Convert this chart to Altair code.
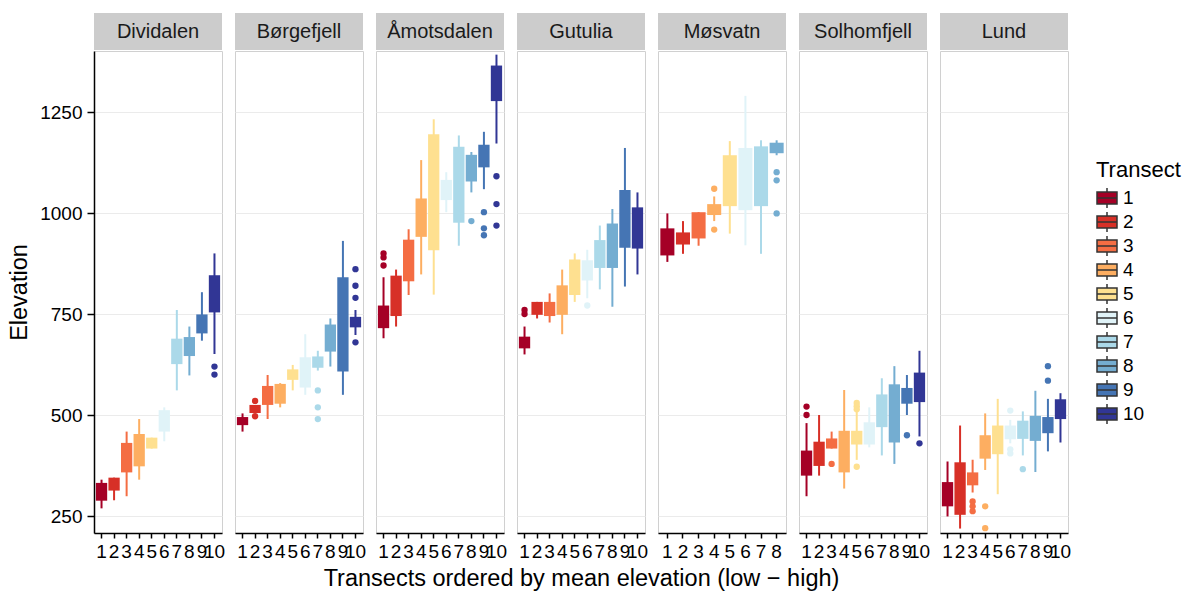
import altair as alt
import pandas as pd

SITES = ["Dividalen", "Børgefjell", "Åmotsdalen", "Gutulia", "Møsvatn", "Solhomfjell", "Lund"]
N_TRANSECTS = [10, 10, 10, 10, 8, 10, 10]

TRANSECTS = [str(k) for k in range(1, 11)]
COLORS = ["#A50026", "#D73027", "#F46D43", "#FDAE61", "#FEE090",
          "#E0F3F8", "#ABD9E9", "#74ADD1", "#4575B4", "#313695"]

WHISKER_LOW = [
    [269, 289, 299, 340, 417, 435, 561, 598, 684, 651],
    [459, 505, 490, 519, 561, 550, 610, 620, 550, 698],
    [690, 719, 797, 848, 798, 1002, 919, 1051, 1059, 1172],
    [650, 739, 729, 700, 780, 789, 811, 768, 818, 848],
    [879, 899, 919, 980, 949, 920, 899, 1143],
    [299, 350, 417, 318, 389, 420, 400, 379, 500, 447],
    [249, 219, 308, 364, 304, 430, 400, 359, 410, 432],
]
Q1 = [
    [288, 313, 358, 373, 417, 459, 626, 646, 702, 754],
    [475, 505, 525, 528, 587, 568, 617, 657, 608, 717],
    [715, 745, 831, 941, 908, 1032, 976, 1078, 1113, 1277],
    [665, 748, 745, 748, 797, 833, 864, 864, 914, 912],
    [895, 922, 937, 995, 1017, 1007, 1017, 1148],
    [350, 374, 417, 358, 427, 427, 470, 432, 528, 532],
    [274, 253, 326, 392, 403, 440, 441, 436, 455, 490],
]
Q3 = [
    [332, 345, 431, 453, 444, 512, 689, 693, 749, 846],
    [495, 525, 572, 577, 613, 643, 645, 724, 841, 743],
    [771, 845, 934, 1036, 1195, 1082, 1164, 1144, 1169, 1365],
    [694, 780, 780, 821, 885, 883, 933, 974, 1057, 1014],
    [962, 952, 1002, 1022, 1143, 1161, 1165, 1174],
    [412, 434, 442, 461, 461, 482, 551, 576, 567, 605],
    [334, 383, 358, 450, 474, 474, 486, 498, 495, 539],
]
WHISKER_HIGH = [
    [340, 345, 459, 490, 444, 519, 760, 719, 804, 900],
    [504, 525, 599, 579, 624, 700, 659, 739, 931, 760],
    [841, 860, 960, 1131, 1232, 1101, 1192, 1151, 1201, 1392],
    [719, 780, 801, 860, 900, 909, 969, 1010, 1161, 1051],
    [999, 980, 1002, 1041, 1178, 1290, 1180, 1180],
    [480, 500, 459, 562, 512, 519, 591, 621, 599, 659],
    [385, 474, 389, 504, 540, 488, 509, 560, 540, 554],
]
# outliers per site: (transect, elevation)
OUTLIERS = [
    [(10, 620), (10, 600)],
    [(2, 535), (2, 497), (7, 561), (7, 519), (7, 490), (10, 861), (10, 820), (10, 790), (10, 680)],
    [(1, 900), (1, 890), (1, 870), (8, 980), (9, 1002), (9, 962), (9, 945), (10, 1091), (10, 1022), (10, 969)],
    [(1, 760), (1, 750), (6, 771)],
    [(4, 1060), (4, 959), (8, 1101), (8, 1081), (8, 999)],
    [(1, 521), (1, 500), (3, 379), (5, 530), (5, 522), (5, 514), (5, 372), (9, 450), (10, 430)],
    [(3, 286), (3, 274), (3, 262), (4, 274), (4, 220), (6, 511), (6, 415), (6, 405), (7, 366), (9, 621), (9, 585)],
]
Y_TICKS = [250, 500, 750, 1000, 1250]
Y_DOMAIN = [208, 1401]

X_TITLE = "Transects ordered by mean elevation (low \u2212 high)"
FONT = "Liberation Sans"
PW, PH = 128, 482

LEGEND_PATH = "M-1,-0.6H1V0.6H-1Z M-1,0H1 M0,-0.6V-1 M0,0.6V1"


def panel(i):
    site = SITES[i]
    n = N_TRANSECTS[i]
    order = TRANSECTS[:n]
    box_df = pd.DataFrame({
        "transect": order,
        "lw": WHISKER_LOW[i],
        "q1": Q1[i],
        "q3": Q3[i],
        "uw": WHISKER_HIGH[i],
    })
    out_df = pd.DataFrame({
        "transect": [str(t) for t, _ in OUTLIERS[i]],
        "value": [v for _, v in OUTLIERS[i]],
    })
    strip_df = pd.DataFrame({"site": [site]})

    xaxis = alt.Axis(
        title=X_TITLE if i == 3 else None,
        titleFontSize=23.5, titleFontWeight="normal", titlePadding=5, titleColor="#000",
        labelAngle=0, labelFontSize=19, labelColor="#000", labelOverlap=False,
        labelFlush=False, labelPadding=4,
        tickColor="#000", tickSize=5, tickWidth=1.5,
        domainColor="#000", domainWidth=1.5, grid=False,
    )
    xenc = alt.X("transect:N", sort=order,
                 scale=alt.Scale(paddingInner=0, paddingOuter=0.1),
                 axis=xaxis)
    if i == 0:
        yaxis = alt.Axis(
            values=Y_TICKS, format="d", title="Elevation", titleFontSize=23.5,
            titleFontWeight="normal", titleColor="#000", titlePadding=8,
            labelFontSize=19, labelColor="#000", labelPadding=5,
            tickColor="#000", tickSize=7, tickWidth=1.5,
            domainColor="#000", domainWidth=1.5,
            grid=True, gridColor="#EBEBEB", gridWidth=1,
        )
    else:
        yaxis = alt.Axis(values=Y_TICKS, title=None, labels=False, ticks=False,
                         domain=False, grid=True, gridColor="#EBEBEB", gridWidth=1)
    yscale = alt.Scale(domain=Y_DOMAIN, nice=False, zero=False)
    cscale = alt.Scale(domain=TRANSECTS, range=COLORS)
    color = alt.Color(
        "transect:N", scale=cscale,
        legend=alt.Legend(
            title="Transect", orient="none", legendX=1002, legendY=109,
            titleFontSize=22, titleFontWeight="normal", titleColor="#000", titlePadding=5,
            labelFontSize=19, labelColor="#000", labelOffset=5,
            symbolType=LEGEND_PATH, symbolSize=400, symbolStrokeColor="#333333",
            symbolStrokeWidth=1.5, rowPadding=-2,
        ),
    )

    strip_bg = alt.Chart(strip_df).mark_rect(color="#CCCCCC").encode(
        x=alt.value(0), x2=alt.value(PW), y=alt.value(-38), y2=alt.value(-1))
    strip_txt = alt.Chart(strip_df).mark_text(
        fontSize=20, font=FONT, color="#1A1A1A", baseline="middle", align="center"
    ).encode(x=alt.value(PW / 2), y=alt.value(-19), text="site:N")

    whisk = alt.Chart(box_df).mark_bar(width=2).encode(
        x=xenc, y=alt.Y("lw:Q", scale=yscale, axis=yaxis), y2="uw:Q", color=color)
    box = alt.Chart(box_df).mark_bar(width=alt.RelativeBandSize(0.9)).encode(
        x=xenc, y=alt.Y("q3:Q", scale=yscale, axis=yaxis), y2="q1:Q", color=color)
    pts = alt.Chart(out_df).mark_circle(size=40, opacity=1).encode(
        x=xenc, y=alt.Y("value:Q", scale=yscale, axis=yaxis), color=color)

    return alt.layer(strip_bg, strip_txt, whisk, box, pts).properties(width=PW, height=PH)


chart = alt.hconcat(*[panel(i) for i in range(len(SITES))], spacing=13, bounds="flush").resolve_scale(
    x="independent", y="independent", color="shared"
).resolve_legend(color="shared").properties(
    padding={"left": 7, "top": 12, "right": 5, "bottom": 5}
).configure(font=FONT).configure_view(stroke="#D0D0D0", strokeWidth=1)

chart.save("out.html", embed_options={"renderer": "svg", "actions": False})
